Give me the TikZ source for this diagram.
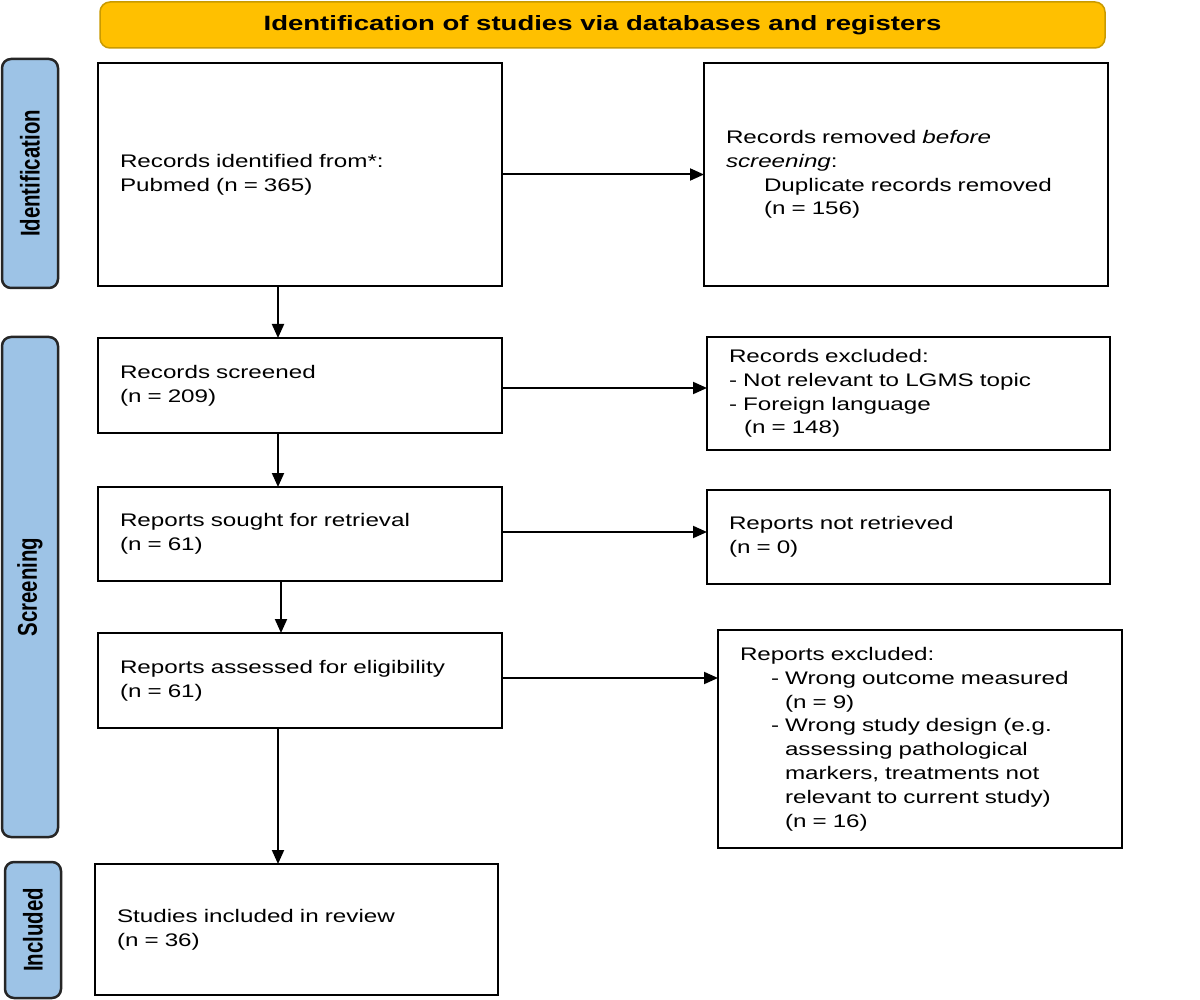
\documentclass[tikz,border=0pt]{standalone}
\usepackage{fontspec}
\setmainfont[FakeStretch=1.33]{Liberation Sans}
\newfontfamily\labelfont{Liberation Sans}
\usetikzlibrary{arrows.meta}
\definecolor{gold}{HTML}{FFC000}
\definecolor{goldedge}{HTML}{C99A00}
\definecolor{phase}{HTML}{9DC3E6}
\tikzset{
  box/.style={draw=black, line width=2.5pt, fill=white, align=left,
    inner xsep=22pt, inner ysep=0pt, outer sep=0pt,
    font=\fontsize{18.2}{23.8}\selectfont},
  phasebox/.style={draw=black!85, line width=2.5pt, fill=phase, rounded corners=9pt,
    inner sep=0pt, outer sep=0pt, minimum width=56pt,
    font=\labelfont\bfseries\fontsize{20.4}{24}\selectfont},
  headbox/.style={draw=goldedge, line width=1.5pt, fill=gold, rounded corners=10pt,
    inner sep=0pt, minimum width=1005pt, minimum height=46pt,
    font=\bfseries\fontsize{20.7}{24}\selectfont},
  arr/.style={line width=2pt, -{Triangle[length=14pt,width=12pt]}}
}
\newcommand{\vlab}[1]{\rotatebox{90}{\scalebox{1}[1.33]{#1}}}
\begin{document}
\begin{tikzpicture}[x=1pt,y=-1pt]
\useasboundingbox (0,0) rectangle (1200,1000);
% header
\node[headbox] (head) at (602.5,25) {Identification of studies via databases and registers};
% phase labels
\node[phasebox, minimum height=229pt] (pid) at (30,173.5) {\vlab{Identification}};
\node[phasebox, minimum height=500pt] (psc) at (30,587) {\vlab{Screening}};
\node[phasebox, minimum height=136pt] (pin) at (33,930) {\vlab{Included}};
% boxes
\node[box, text width=360pt, minimum height=223pt] (b1) at (300,174.5)
  {Records identified from*:\\Pubmed (n = 365)};
\node[box, text width=360pt, minimum height=223pt] (b2) at (906,174.5)
  {Records removed \textit{before}\\\textit{screening}:\\\hspace*{38pt}Duplicate records removed\\\hspace*{38pt}(n = 156)};
\node[box, text width=360pt, minimum height=95pt] (b3) at (300,385.5)
  {Records screened\\(n = 209)};
\node[box, text width=359pt, minimum height=113pt] (b4) at (908.5,393.5)
  {Records excluded:\\- Not relevant to LGMS topic\\- Foreign language\\\hspace*{15pt}(n = 148)};
\node[box, text width=360pt, minimum height=94pt] (b5) at (300,534)
  {Reports sought for retrieval\\(n = 61)};
\node[box, text width=359pt, minimum height=94pt] (b6) at (908.5,537)
  {Reports not retrieved\\(n = 0)};
\node[box, text width=360pt, minimum height=95pt] (b7) at (300,680.5)
  {Reports assessed for eligibility\\(n = 61)};
\node[box, text width=360pt, minimum height=218pt] (b8) at (920,739)
  {Reports excluded:\\
   \hspace*{31pt}- Wrong outcome measured\\
   \hspace*{45pt}(n = 9)\\
   \hspace*{31pt}- Wrong study design (e.g.\\
   \hspace*{45pt}assessing pathological\\
   \hspace*{45pt}markers, treatments not\\
   \hspace*{45pt}relevant to current study)\\
   \hspace*{45pt}(n = 16)};
\node[box, text width=359pt, minimum height=131pt] (b9) at (296.5,929.5)
  {Studies included in review\\(n = 36)};
% horizontal arrows
\draw[arr] (b1.east) -- (b2.west);
\draw[arr] ([yshift=-2.5pt]b3.east) -- ([yshift=-2.5pt]b3.east -| b4.west);
\draw[arr] ([yshift=2pt]b5.east) -- ([yshift=2pt]b5.east -| b6.west);
\draw[arr] ([yshift=2.5pt]b7.east) -- ([yshift=2.5pt]b7.east -| b8.west);
% vertical arrows
\draw[arr] ([xshift=-22pt]b1.south) -- ([xshift=-22pt]b1.south |- b3.north);
\draw[arr] ([xshift=-22pt]b3.south) -- ([xshift=-22pt]b3.south |- b5.north);
\draw[arr] ([xshift=-19pt]b5.south) -- ([xshift=-19pt]b5.south |- b7.north);
\draw[arr] ([xshift=-22pt]b7.south) -- ([xshift=-22pt]b7.south |- b9.north);
\end{tikzpicture}
\end{document}
